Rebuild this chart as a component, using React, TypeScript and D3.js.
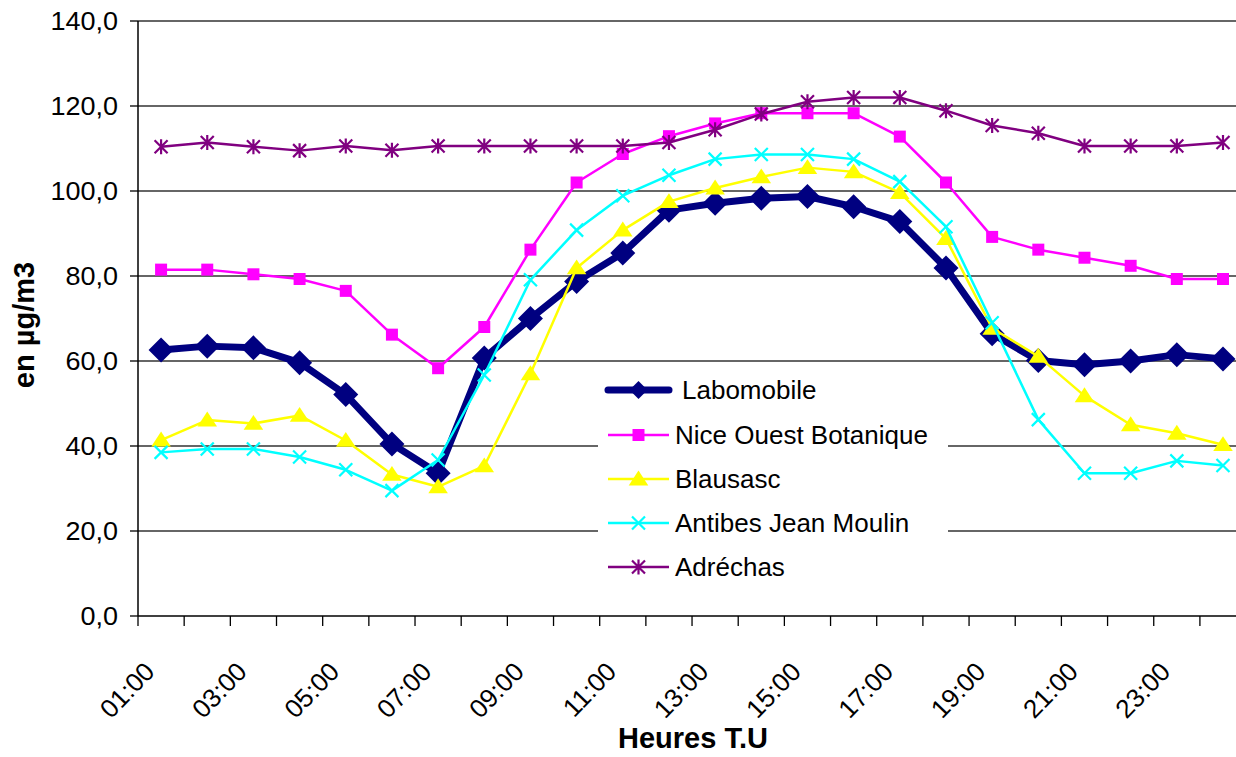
import React from "react";
import * as d3 from "d3";

const hours = [
  "01:00","02:00","03:00","04:00","05:00","06:00","07:00","08:00","09:00","10:00","11:00","12:00",
  "13:00","14:00","15:00","16:00","17:00","18:00","19:00","20:00","21:00","22:00","23:00","24:00",
];
const labomobile = [62.6,63.5,63.1,59.6,52.1,40.5,33.6,60.7,70.0,78.7,85.4,95.5,97.1,98.3,98.7,96.3,92.8,81.9,66.4,60.1,59.1,60.0,61.5,60.5];
const niceOuest = [81.5,81.5,80.4,79.3,76.5,66.2,58.3,68.0,86.2,102.0,108.7,112.9,115.9,118.3,118.3,118.3,112.8,102.0,89.2,86.2,84.3,82.4,79.3,79.3];
const blausasc = [41.4,46.1,45.3,47.2,41.3,33.3,30.4,35.3,57.0,81.9,90.8,97.5,100.7,103.3,105.5,104.5,99.6,88.8,67.7,61.1,51.8,45.0,43.0,40.3];
const antibes = [38.5,39.3,39.3,37.4,34.4,29.5,36.7,56.7,79.1,90.8,98.9,103.7,107.5,108.6,108.6,107.5,102.2,91.6,69.0,46.2,33.6,33.6,36.5,35.4];
const adrechas = [110.4,111.4,110.4,109.5,110.6,109.6,110.6,110.6,110.6,110.6,110.6,111.4,114.4,118.1,121.0,122.0,122.0,118.9,115.4,113.6,110.6,110.6,110.6,111.4];
const yTicks = [0,20,40,60,80,100,120,140];
const xLabels = ["01:00","03:00","05:00","07:00","09:00","11:00","13:00","15:00","17:00","19:00","21:00","23:00"];

const seriesNames = ["Labomobile","Nice Ouest Botanique","Blausasc","Antibes Jean Moulin","Adréchas"];
const seriesData = [labomobile, niceOuest, blausasc, antibes, adrechas];
const seriesColors = ["#000080","#FF00FF","#FFFF00","#00FFFF","#800080"];
const seriesMarkers = ["diamond","square","triangle","x","star"];

const W = 1236, H = 757;
const left = 138, top = 21, bottom = 616, step = 46.17;
const FONT = "'Liberation Sans', Arial, Helvetica, sans-serif";

function markerPath(kind: string, r: number): string {
  if (kind === "diamond") return `M0,${-r}L${r},0L0,${r}L${-r},0Z`;
  if (kind === "square") return `M${-r},${-r}H${r}V${r}H${-r}Z`;
  if (kind === "triangle") return `M0,${-r}L${r * 1.15},${r * 0.75}L${-r * 1.15},${r * 0.75}Z`;
  if (kind === "x") return `M${-r},${-r}L${r},${r}M${-r},${r}L${r},${-r}`;
  return `M${-r},${-r}L${r},${r}M${-r},${r}L${r},${-r}M0,${-r * 1.15}L0,${r * 1.15}`;
}

function Marker({ kind, color, x, y, scale = 1 }: any) {
  const sizes: any = { diamond: 12.5, square: 6, triangle: 8.5, x: 6.5, star: 6.5 };
  const r = sizes[kind] * scale;
  const filled = kind === "diamond" || kind === "square" || kind === "triangle";
  return (
    <path
      d={markerPath(kind, r)}
      transform={`translate(${x},${y})`}
      fill={filled ? color : "none"}
      stroke={color}
      strokeWidth={filled ? 0 : 2.2}
    />
  );
}

export default function App() {
  const x = d3.scaleBand<string>().domain(hours).range([left, left + step * 24]).paddingInner(0).paddingOuter(0);
  const y = d3.scaleLinear().domain([0, 140]).range([bottom, top]);
  const cx = (h: string) => (x(h) as number) + x.bandwidth() / 2;
  const line = d3.line<number>().x((_, i) => cx(hours[i])).y((v) => y(v));

  const legendRows = [390, 435, 479, 523, 567];

  return (
    <svg width={W} height={H} style={{ position: "absolute", left: 0, top: 0, background: "#fff" }} fontFamily={FONT}>
      <rect x={0} y={0} width={W} height={H} fill="#fff" />
      {/* gridlines */}
      {yTicks.filter((t) => t > 0).map((t) => (
        <line key={t} x1={left} x2={left + step * 24} y1={y(t)} y2={y(t)} stroke="#333" strokeWidth={1.3} />
      ))}
      {/* legend background (hides gridlines) */}
      <rect x={598} y={368} width={350} height={220} fill="#fff" />
      {/* axes */}
      <line x1={left} x2={left} y1={top} y2={bottom} stroke="#000" strokeWidth={1.5} />
      <line x1={left} x2={left + step * 24} y1={bottom} y2={bottom} stroke="#000" strokeWidth={1.5} />
      {yTicks.map((t) => (
        <g key={t}>
          <line x1={left - 8} x2={left} y1={y(t)} y2={y(t)} stroke="#000" strokeWidth={1.3} />
          <text
            transform={`translate(118,${y(t)}) scale(1.08,1)`}
            dy="0.35em"
            textAnchor="end"
            fontSize={25}
            fill="#000"
          >
            {t.toFixed(1).replace(".", ",")}
          </text>
        </g>
      ))}
      {d3.range(25).map((k) => (
        <line key={k} x1={left + k * step} x2={left + k * step} y1={bottom} y2={bottom + 10} stroke="#000" strokeWidth={1.3} />
      ))}
      {xLabels.map((h) => (
        <text
          key={h}
          transform={`translate(${cx(h) - 5},${bottom + 57}) rotate(-46)`}
          textAnchor="end"
          fontSize={26}
          fill="#000"
        >
          {h}
        </text>
      ))}
      {/* series */}
      {seriesData.map((data, si) => (
        <g key={si}>
          <path
            d={line(data) as string}
            fill="none"
            stroke={seriesColors[si]}
            strokeWidth={si === 0 ? 7 : 2.5}
            strokeLinejoin="round"
          />
          {data.map((v, i) => (
            <Marker key={i} kind={seriesMarkers[si]} color={seriesColors[si]} x={cx(hours[i])} y={y(v)} />
          ))}
        </g>
      ))}
      {/* legend entries */}
      {seriesNames.map((name, si) => (
        <g key={name}>
          <line
            x1={608}
            x2={669}
            y1={legendRows[si]}
            y2={legendRows[si]}
            stroke={seriesColors[si]}
            strokeWidth={si === 0 ? 7 : 2.5}
            strokeLinecap={si === 0 ? "round" : "butt"}
          />
          <Marker kind={seriesMarkers[si]} color={seriesColors[si]} x={638.5} y={legendRows[si]} scale={si === 0 ? 0.72 : 1} />
          <text x={si === 0 ? 682 : 675} y={legendRows[si]} dy="0.36em" fontSize={26} fill="#000">
            {name}
          </text>
        </g>
      ))}
      {/* axis titles */}
      <text
        transform={`translate(34,325) rotate(-90)`}
        textAnchor="middle"
        fontSize={29}
        fontWeight="bold"
        fill="#000"
      >
        en µg/m3
      </text>
      <text x={693} y={748} textAnchor="middle" fontSize={29} fontWeight="bold" fill="#000">
        Heures T.U
      </text>
    </svg>
  );
}
